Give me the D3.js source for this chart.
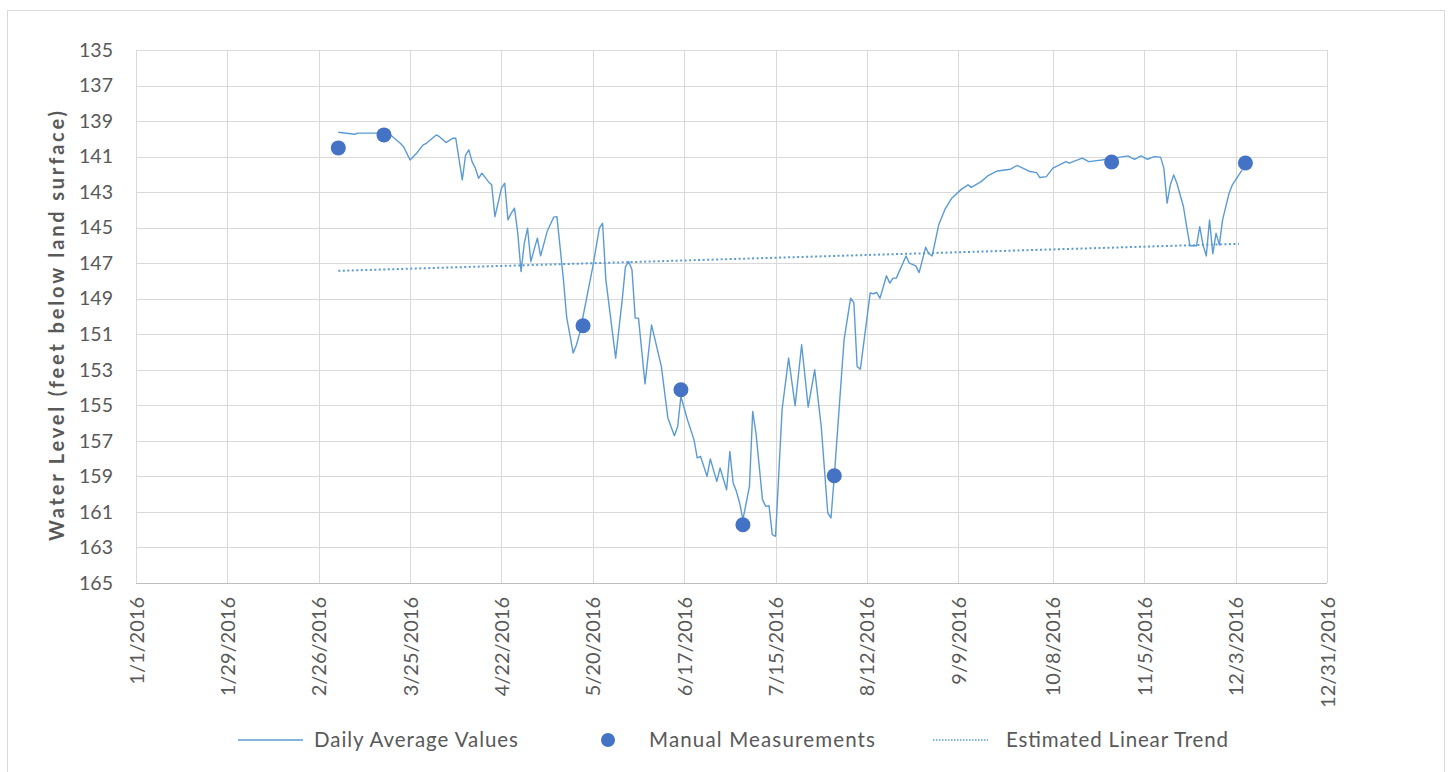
<!DOCTYPE html>
<html>
<head>
<meta charset="utf-8">
<script src="https://cdn.jsdelivr.net/npm/d3@7"></script>
<style>
  html, body { margin: 0; padding: 0; background: #fff; }
  svg { display: block; }
  text { font-family: Lato, "Open Sans", sans-serif; fill: #595959; }
</style>
</head>
<body>
<svg id="chart" width="1452" height="772"></svg>
<script>
// ---- Data (day of year 2016, 0 = Jan 1) ----
const dailyDays = [62,67,68,74,78,81,82,84,86,88,89,92,93,95,97,98,100,101,102,103,104,105,106,108,109,110,112,113,114,115,116,117,118,119,120,121,123,124,126,128,129,131,132,134,135,136,138,140,142,143,144,147,149,150,151,152,153,154,156,158,161,163,165,166,167,169,171,172,173,175,176,178,179,181,182,183,184,185,186,188,189,190,192,193,194,195,196,198,200,202,204,206,208,210,212,213,214,217,219,220,221,222,225,226,227,228,230,231,232,233,236,237,239,240,242,243,244,246,248,250,253,255,256,259,261,264,268,270,274,276,277,279,281,285,286,290,292,296,300,304,306,308,310,312,314,315,316,317,318,319,321,322,323,325,326,327,328,329,330,331,332,333,335,336,339];
const dailyValues = [139.63,139.74,139.68,139.68,139.78,140.25,140.44,141.19,140.81,140.34,140.25,139.78,139.88,140.21,139.97,139.97,142.31,140.91,140.62,141.28,141.65,142.22,141.93,142.41,142.59,144.38,142.78,142.50,144.56,144.18,143.90,145.31,147.47,145.87,145.03,146.91,145.59,146.59,145.22,144.41,144.38,147.94,150.07,152.06,151.59,150.92,149.06,147.19,145.03,144.75,147.94,152.34,149.06,147.19,146.91,147.37,150.09,150.09,153.79,150.47,152.81,155.71,156.71,156.19,154.50,155.81,156.93,157.96,157.87,159.00,158.02,159.28,158.53,159.75,157.59,159.37,159.84,160.50,161.43,159.56,155.34,156.56,160.31,160.69,160.65,162.28,162.37,155.25,152.34,155.02,151.59,155.10,153.00,156.19,161.06,161.34,159.00,151.31,148.97,149.21,152.81,152.96,148.68,148.72,148.65,148.97,147.71,148.12,147.84,147.84,146.59,147.00,147.15,147.53,146.10,146.47,146.59,144.84,143.94,143.34,142.83,142.59,142.73,142.41,142.09,141.81,141.71,141.50,141.84,141.90,142.18,142.13,141.65,141.28,141.37,141.09,141.28,141.19,141.07,140.96,141.15,140.96,141.15,141.00,141.03,141.65,143.62,142.59,142.03,142.50,143.81,144.94,146.02,146.02,144.94,145.97,146.59,144.56,146.47,145.31,145.97,144.56,143.06,142.59,141.75];

const manualDays = [62,76,137,167,186,214,299,340];
const manualValues = [140.51,139.78,150.52,154.12,161.72,158.96,141.30,141.36];

const trendDays = [62,338];
const trendValues = [147.43,145.91];

const xTickLabels = ["1/1/2016","1/29/2016","2/26/2016","3/25/2016","4/22/2016","5/20/2016","6/17/2016","7/15/2016","8/12/2016","9/9/2016","10/8/2016","11/5/2016","12/3/2016","12/31/2016"];
const yTicks = [135,137,139,141,143,145,147,149,151,153,155,157,159,161,163,165];

const legendLabels = ["Daily Average Values","Manual Measurements","Estimated Linear Trend"];
const yTitle = "Water Level (feet below land surface)";

// ---- Setup ----
const parse = d3.timeParse("%m/%d/%Y");
const start = new Date(2016,0,1);
const toDate = d => d3.timeDay.offset(start, d);

const svg = d3.select("#chart");
const lineColor = "#5b9bd5";
const dotColor = "#4472c4";

svg.append("rect").attr("x",7.5).attr("y",10.5).attr("width",1437).attr("height",770)
  .attr("fill","#fff").attr("stroke","#d9d9d9");

const x = d3.scaleTime().domain([parse("1/1/2016"), parse("12/31/2016")]).range([136,1327]);
const y = d3.scaleLinear().domain([135,165]).range([50,583]);

const tickDates = xTickLabels.map(parse);

// gridlines
const grid = svg.append("g");
grid.selectAll("line.h").data(yTicks).join("line")
  .attr("x1",136).attr("x2",1327)
  .attr("y1",d=>Math.round(y(d))+0.5).attr("y2",d=>Math.round(y(d))+0.5)
  .attr("stroke","#d9d9d9").attr("stroke-width",1);
grid.selectAll("line.v").data(tickDates).join("line")
  .attr("x1",d=>Math.round(x(d))+0.5).attr("x2",d=>Math.round(x(d))+0.5)
  .attr("y1",50).attr("y2",583)
  .attr("stroke","#d9d9d9").attr("stroke-width",1);

// y axis
const yAxis = d3.axisLeft(y).tickValues(yTicks).tickSize(0).tickPadding(0);
const gy = svg.append("g").attr("transform","translate(113,0)").call(yAxis);
gy.select(".domain").remove();
gy.selectAll("text").attr("font-size",19.5).attr("fill","#595959")
  .style("font-family","Lato, 'Open Sans', sans-serif");

// x axis
const xAxis = d3.axisBottom(x).tickValues(tickDates).tickSize(0)
  .tickFormat((d,i)=>xTickLabels[i]);
const gx = svg.append("g").attr("transform","translate(0,583)").call(xAxis);
gx.select(".domain").attr("stroke","#bfbfbf").attr("d","M136,0.5H1327");
gx.selectAll("text").attr("font-size",20).attr("fill","#595959")
  .style("font-family","Lato, 'Open Sans', sans-serif")
  .attr("transform","rotate(-90)")
  .attr("text-anchor","end").attr("x",-14).attr("y",0).attr("dy","0.35em");

// y title
svg.append("text").attr("transform","translate(57,326) rotate(-90)")
  .attr("text-anchor","middle").attr("dy","0.35em")
  .attr("font-size",20).attr("font-weight","bold").attr("fill","#595959")
  .attr("textLength",430).attr("lengthAdjust","spacing")
  .text(yTitle);

// trend line
const line = d3.line().x(d=>x(d[0])).y(d=>y(d[1]));
svg.append("path")
  .datum(trendDays.map((d,i)=>[toDate(d),trendValues[i]]))
  .attr("d",line).attr("fill","none").attr("stroke",lineColor)
  .attr("stroke-width",2).attr("stroke-dasharray","2,2.5");

// daily line
svg.append("path")
  .datum(dailyDays.map((d,i)=>[toDate(d),dailyValues[i]]))
  .attr("d",line).attr("fill","none").attr("stroke",lineColor)
  .attr("stroke-width",1.4).attr("stroke-linejoin","round");

// manual dots
svg.append("g").selectAll("circle").data(manualDays.map((d,i)=>[toDate(d),manualValues[i]]))
  .join("circle").attr("cx",d=>x(d[0])).attr("cy",d=>y(d[1])).attr("r",7.5)
  .attr("fill",dotColor);

// legend
const lg = svg.append("g");
const ly = 740;
lg.append("line").attr("x1",238).attr("x2",303).attr("y1",ly).attr("y2",ly)
  .attr("stroke",lineColor).attr("stroke-width",1.4);
lg.append("text").attr("x",314).attr("y",ly).attr("dy","0.35em").attr("font-size",20.5)
  .attr("textLength",204).attr("lengthAdjust","spacing")
  .text(legendLabels[0]);
lg.append("circle").attr("cx",608).attr("cy",ly).attr("r",7).attr("fill",dotColor);
lg.append("text").attr("x",649).attr("y",ly).attr("dy","0.35em").attr("font-size",20.5)
  .attr("textLength",226).attr("lengthAdjust","spacing")
  .text(legendLabels[1]);
lg.append("line").attr("x1",933).attr("x2",988).attr("y1",ly).attr("y2",ly)
  .attr("stroke",lineColor).attr("stroke-width",1.4).attr("stroke-dasharray","1.5,1.5");
lg.append("text").attr("x",1006).attr("y",ly).attr("dy","0.35em").attr("font-size",20.5)
  .attr("textLength",222).attr("lengthAdjust","spacing")
  .text(legendLabels[2]);
</script>
</body>
</html>
